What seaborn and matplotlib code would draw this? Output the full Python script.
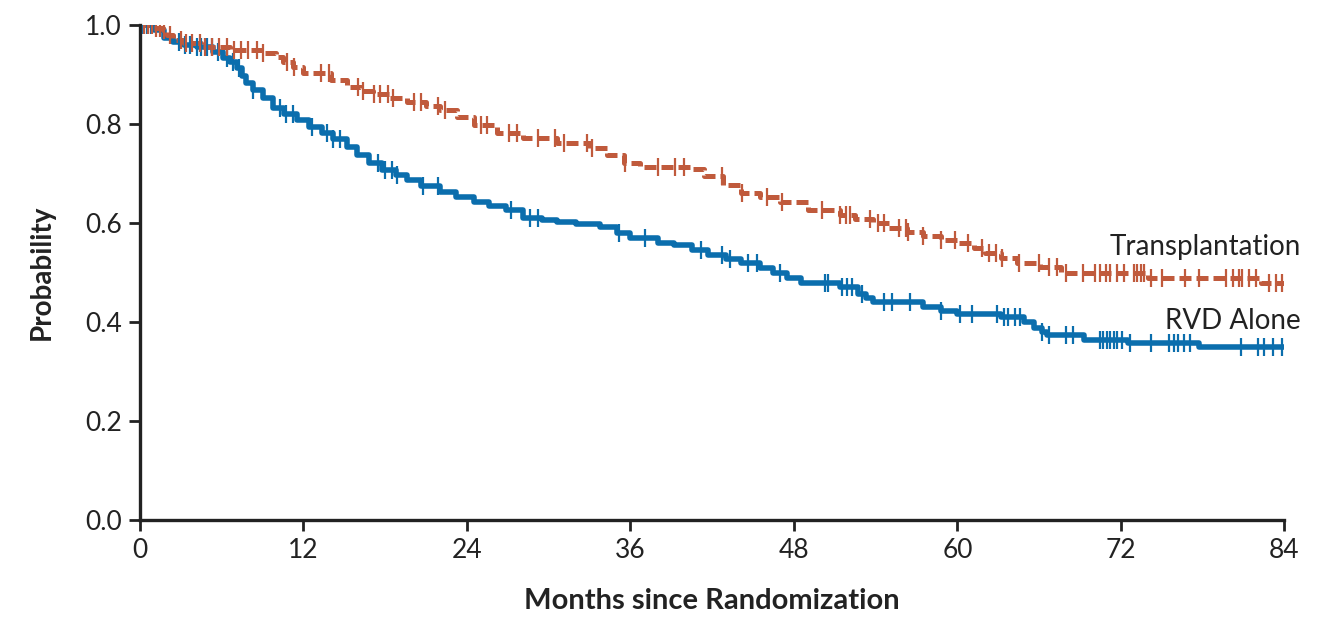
import numpy as np
import pandas as pd
import matplotlib.pyplot as plt
import seaborn as sns

# Kaplan-Meier step points (month, survival probability)
tx_months = [0, 1.0, 1.7, 2.0, 2.4, 3.2, 4.5, 6.6, 9.0, 10.0, 10.5, 11.2, 12.0, 14.0, 15.2,
             16.2, 17.1, 18.3, 19.6, 21.0, 22.0, 23.3, 24.5, 26.2, 28.1, 30.6, 33.0, 34.3,
             35.5, 36.7, 40.4, 41.4, 42.8, 44.1, 45.5, 47.0, 49.0, 51.4, 52.5, 53.8, 55.0,
             56.3, 57.5, 58.8, 60.0, 61.2, 62.0, 63.2, 64.4, 66.1, 67.6, 74.0, 82.3, 84]
tx_surv = [1.0, 0.995, 0.99, 0.98, 0.97, 0.965, 0.957, 0.95, 0.943, 0.935, 0.925, 0.915, 0.903,
           0.89, 0.875, 0.868, 0.862, 0.853, 0.845, 0.836, 0.828, 0.814, 0.798, 0.782, 0.772,
           0.762, 0.752, 0.737, 0.721, 0.713, 0.709, 0.695, 0.677, 0.661, 0.652, 0.642, 0.626,
           0.616, 0.608, 0.6, 0.59, 0.582, 0.574, 0.566, 0.56, 0.55, 0.539, 0.529, 0.519, 0.511,
           0.499, 0.49, 0.479, 0.479]

rvd_months = [0, 1.0, 1.8, 2.4, 3.2, 4.2, 5.4, 6.1, 6.6, 7.1, 7.5, 7.8, 8.3, 9.0, 9.8, 10.6,
              11.5, 12.4, 13.4, 14.2, 15.2, 15.9, 16.8, 17.8, 18.8, 19.6, 20.6, 22.0, 23.2,
              24.5, 25.6, 26.9, 28.1, 29.5, 30.6, 32.0, 33.8, 35.0, 36.0, 38.0, 39.2, 40.5,
              41.7, 43.0, 44.1, 45.5, 46.5, 47.5, 48.5, 51.4, 52.7, 53.3, 53.8, 57.5, 58.8,
              60.0, 63.2, 64.9, 65.6, 66.2, 66.6, 69.3, 72.5, 77.7, 84]
rvd_surv = [1.0, 0.99, 0.975, 0.966, 0.96, 0.956, 0.945, 0.933, 0.925, 0.913, 0.898, 0.883,
            0.87, 0.853, 0.832, 0.82, 0.808, 0.795, 0.782, 0.77, 0.755, 0.737, 0.722, 0.707,
            0.697, 0.687, 0.675, 0.663, 0.652, 0.642, 0.634, 0.626, 0.61, 0.606, 0.602, 0.598,
            0.592, 0.58, 0.57, 0.56, 0.556, 0.545, 0.535, 0.527, 0.519, 0.509, 0.499, 0.489,
            0.479, 0.471, 0.457, 0.448, 0.44, 0.43, 0.422, 0.416, 0.41, 0.4, 0.388, 0.38, 0.374,
            0.364, 0.357, 0.35, 0.35]

# censoring times (tick marks)
tx_censor = [0.3, 0.6, 0.9, 1.2, 1.5, 1.8, 2.2, 3.0, 3.4, 3.8, 4.4, 4.8, 5.3, 5.8, 6.4, 6.9,
             7.4, 7.9, 8.6, 9.0, 10.8, 11.3, 13.3, 13.9, 16.0, 16.4, 17.2, 17.6, 18.2, 18.6,
             20.1, 20.6, 21.9, 22.4, 25.0, 25.5, 27.1, 27.7, 29.2, 30.5, 31.1, 32.8, 33.2,
             35.6, 38.0, 39.3, 39.9, 42.7, 44.2, 46.0, 47.1, 50.1, 51.4, 51.8, 52.1, 53.6,
             54.2, 54.6, 55.7, 56.2, 56.4, 57.5, 58.8, 59.8, 60.8, 61.8, 62.3, 62.8, 63.3,
             64.5, 66.0, 66.7, 67.3, 68.0, 69.2, 70.1, 70.5, 70.9, 71.2, 71.7, 72.2, 73.0,
             73.2, 73.5, 73.7, 74.2, 75.0, 76.7, 77.7, 79.7, 80.2, 80.7, 80.9, 81.4, 81.9,
             82.9, 83.4, 83.8]
rvd_censor = [0.2, 0.5, 0.8, 2.9, 3.3, 3.7, 4.2, 4.5, 4.9, 5.3, 5.7, 6.4, 6.8, 7.3, 8.3,
              10.3, 10.7, 11.2, 12.6, 13.7, 14.2, 14.7, 17.5, 18.0, 18.5, 18.9, 20.8, 21.9,
              27.2, 28.6, 29.2, 35.2, 37.1, 41.2, 42.7, 43.3, 44.6, 45.3, 47.0, 50.3, 50.5,
              51.5, 51.9, 52.3, 53.0, 54.6, 55.2, 56.5, 58.8, 60.2, 61.1, 62.9, 63.4, 63.7,
              64.2, 64.6, 66.2, 66.7, 68.0, 68.5, 70.5, 70.7, 71.0, 71.2, 71.5, 71.7, 72.1,
              72.7, 74.2, 75.5, 75.9, 76.2, 76.6, 77.1, 80.8, 82.1, 82.5, 83.2, 83.8]

x_ticks = [0, 12, 24, 36, 48, 60, 72, 84]
y_ticks = [0.0, 0.2, 0.4, 0.6, 0.8, 1.0]

blue = "#0b6ead"
orange = "#c05a3c"


def step_at(times, surv, pts):
    # survival value of a step curve at the censor times
    idx = np.searchsorted(times, pts, side="right") - 1
    return np.array(surv)[idx]


sns.set_style("ticks")
plt.rcParams["font.family"] = ["Lato", "DejaVu Sans"]

fig = plt.figure(figsize=(13.2, 6.32), dpi=100)
ax = fig.add_axes([0.106, 0.177, 0.867, 0.783])

tx = pd.DataFrame({"month": tx_months, "surv": tx_surv})
rvd = pd.DataFrame({"month": rvd_months, "surv": rvd_surv})

sns.lineplot(data=rvd, x="month", y="surv", ax=ax, color=blue, lw=4.0,
             drawstyle="steps-post", estimator=None, sort=False)
sns.lineplot(data=tx, x="month", y="surv", ax=ax, color=orange, lw=3.6,
             drawstyle="steps-post", estimator=None, sort=False)
ax.lines[-1].set_dashes((2.4, 1.0))

sns.scatterplot(x=rvd_censor, y=step_at(rvd_months, rvd_surv, rvd_censor), ax=ax,
                marker="|", s=180, linewidth=1.6, color=blue, zorder=3)
sns.scatterplot(x=tx_censor, y=step_at(tx_months, tx_surv, tx_censor), ax=ax,
                marker="|", s=180, linewidth=1.6, color=orange, zorder=3)

ax.set_xlim(0, 84)
ax.set_ylim(0, 1.0)
ax.set_xticks(x_ticks)
ax.set_yticks(y_ticks)
ax.set_yticklabels([f"{v:.1f}" for v in y_ticks])
ax.tick_params(axis="both", direction="out", length=8, width=2, labelsize=19,
               color="#222222", labelcolor="#222222", pad=5)
for side in ["top", "right"]:
    ax.spines[side].set_visible(False)
for side in ["left", "bottom"]:
    ax.spines[side].set_linewidth(2.4)
    ax.spines[side].set_color("#222222")

ax.set_xlabel("Months since Randomization", fontsize=21, fontweight="bold",
              color="#222222", labelpad=18)
ax.set_ylabel("Probability", fontsize=20, fontweight="bold", color="#222222", labelpad=22)

ax.text(85.2, 0.552, "Transplantation", ha="right", va="center", fontsize=20,
        color="#222222", clip_on=False)
ax.text(85.2, 0.402, "RVD Alone", ha="right", va="center", fontsize=20,
        color="#222222", clip_on=False)

fig.savefig("out.png", dpi=100)
